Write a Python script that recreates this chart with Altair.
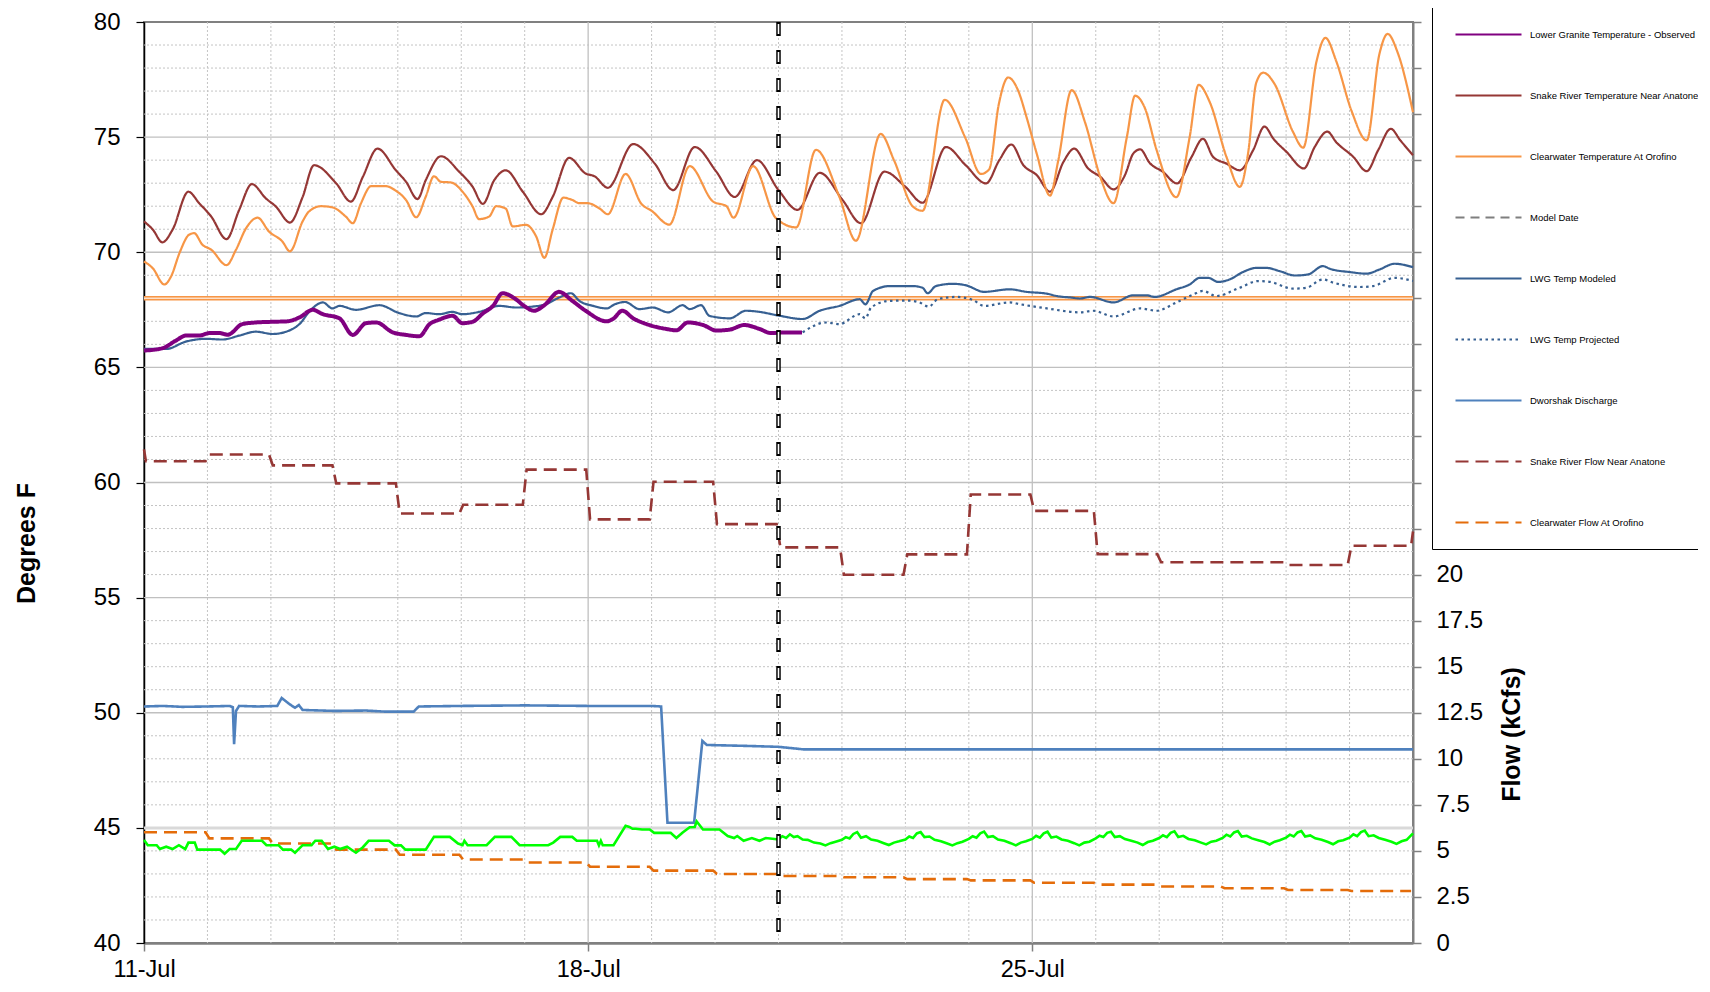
import altair as alt
import pandas as pd

FONT = "Liberation Sans"

# ---------------- axes / categories ----------------
x_tick_days = [0, 7, 14]
x_tick_labels = ["11-Jul", "18-Jul", "25-Jul"]
day_domain = [0, 20]
temp_ticks = [40, 45, 50, 55, 60, 65, 70, 75, 80]
flow_ticks = [0, 2.5, 5, 7.5, 10, 12.5, 15, 17.5, 20, 22.5, 25, 27.5, 30, 32.5, 35,
              37.5, 40, 42.5, 45, 47.5, 50]
flow_label_max = 20
grid_minor_temps = [41, 42, 43, 44, 46, 47, 48, 49, 51, 52, 53, 54, 56, 57, 58, 59,
                    61, 62, 63, 64, 66, 67, 68, 69, 71, 72, 73, 74, 76, 77, 78, 79]
grid_major_temps = [50, 55, 60, 65, 70, 75]
grid_light_temps = [45]
grid_minor_days = [1, 2, 3, 4, 5, 6, 8, 9, 10, 11, 12, 13, 15, 16, 17, 18, 19]
grid_major_days = [7, 14]
model_date_day = [10]
standard_temp = [68]

series_names = [
    "Lower Granite Temperature - Observed",
    "Snake River Temperature Near Anatone",
    "Clearwater Temperature At Orofino",
    "Model Date",
    "LWG Temp Modeled",
    "LWG Temp Projected",
    "Dworshak Discharge",
    "Snake River Flow Near Anatone",
    "Clearwater Flow At Orofino",
]
series_colors = ["#800080", "#953735", "#F79646", "#7F7F7F", "#376092", "#376092",
                 "#4F81BD", "#953735", "#E46C0A"]
series_dashes = [[1, 0], [1, 0], [1, 0], [9, 6], [1, 0], [2.5, 3.5], [1, 0], [13, 7], [13, 7]]

# ---------------- temperatures (deg F), (day since 11-Jul, value) ----------------
snake_temp = [
    (0, 71.34), (0.14, 70.98), (0.29, 70.43), (0.45, 70.98), (0.70, 72.63), (0.87, 72.13),
    (1.06, 71.55), (1.30, 70.57), (1.50, 71.84), (1.70, 72.96), (1.92, 72.34), (2.08, 71.98),
    (2.30, 71.29), (2.50, 72.4), (2.68, 73.78), (3.03, 72.99), (3.26, 72.2), (3.45, 73.28),
    (3.68, 74.5), (3.97, 73.56), (4.13, 73.06), (4.31, 72.31), (4.44, 73.13), (4.68, 74.17),
    (4.97, 73.49), (5.18, 72.84), (5.34, 72.1), (5.52, 73.13), (5.70, 73.56), (5.97, 72.63),
    (6.26, 71.65), (6.44, 72.4), (6.70, 74.1), (6.96, 73.42), (7.10, 73.3), (7.31, 72.8),
    (7.71, 74.7), (8.05, 73.85), (8.34, 72.7), (8.68, 74.57), (9.02, 73.5), (9.31, 72.4),
    (9.66, 74.0), (10.0, 72.7), (10.3, 71.84), (10.65, 73.45), (11.01, 72.27), (11.3, 71.26),
    (11.67, 73.5), (12.0, 72.84), (12.27, 72.15), (12.64, 74.57), (12.95, 73.78),
    (13.27, 72.99), (13.48, 74.0), (13.67, 74.68), (13.86, 73.78), (14.07, 73.35),
    (14.28, 72.63), (14.49, 73.92), (14.66, 74.5), (14.88, 73.64), (15.07, 73.28),
    (15.28, 72.73), (15.46, 73.35), (15.59, 74.28), (15.70, 74.47), (15.85, 73.88),
    (16.06, 73.49), (16.28, 72.99), (16.51, 74.14), (16.69, 74.93), (16.85, 74.14),
    (17.06, 73.85), (17.27, 73.56), (17.48, 74.43), (17.66, 75.46), (17.80, 74.93),
    (18.01, 74.35), (18.28, 73.64), (18.45, 74.57), (18.65, 75.24), (18.79, 74.78),
    (19.06, 74.14), (19.27, 73.52), (19.45, 74.43), (19.65, 75.36), (19.80, 74.86),
    (20.0, 74.21),
]
clearwater_temp = [
    (0, 69.6), (0.14, 69.3), (0.32, 68.6), (0.43, 68.97), (0.56, 69.97), (0.71, 70.76),
    (0.79, 70.83), (0.92, 70.33), (1.06, 70.11), (1.30, 69.44), (1.45, 70.11), (1.61, 71.05),
    (1.79, 71.5), (1.97, 70.9), (2.18, 70.47), (2.30, 70.04), (2.50, 71.34), (2.60, 71.77),
    (2.79, 72.0), (2.97, 71.95), (3.18, 71.55), (3.29, 71.26), (3.42, 72.13), (3.58, 72.87),
    (3.81, 72.87), (3.97, 72.67), (4.13, 72.27), (4.29, 71.52), (4.44, 72.41), (4.57, 73.3),
    (4.68, 73.06), (4.84, 73.03), (5.02, 72.63), (5.18, 71.98), (5.28, 71.44), (5.44, 71.55),
    (5.55, 72.0), (5.70, 71.9), (5.81, 71.12), (6.02, 71.19), (6.18, 70.69), (6.31, 69.76),
    (6.44, 70.98), (6.61, 72.37), (6.75, 72.27), (6.86, 72.13), (6.99, 72.13), (7.18, 71.9),
    (7.31, 71.65), (7.59, 73.4), (7.84, 72.1), (8.0, 71.8), (8.28, 71.2), (8.6, 73.74),
    (8.97, 72.2), (9.18, 72.0), (9.29, 71.5), (9.6, 73.74), (9.96, 71.48), (10.28, 71.08),
    (10.59, 74.45), (10.96, 72.4), (11.22, 70.5), (11.61, 75.14), (11.82, 74.0),
    (12.12, 71.98), (12.27, 71.8), (12.62, 76.62), (12.94, 75.0), (13.19, 73.4),
    (13.32, 73.6), (13.47, 76.4), (13.62, 77.59), (13.78, 77.0), (13.91, 75.86),
    (14.07, 74.28), (14.28, 72.46), (14.41, 74.0), (14.62, 77.04), (14.83, 75.65),
    (15.07, 73.28), (15.28, 72.13), (15.49, 75.0), (15.62, 76.8), (15.77, 76.29),
    (15.96, 74.43), (16.27, 72.39), (16.48, 75.0), (16.62, 77.27), (16.80, 76.5),
    (17.06, 74.14), (17.27, 72.84), (17.40, 74.28), (17.53, 77.37), (17.64, 77.8),
    (17.82, 77.3), (18.11, 75.22), (18.27, 74.54), (18.48, 78.3), (18.62, 79.31),
    (18.79, 78.3), (19.03, 76.15), (19.27, 74.86), (19.47, 78.6), (19.60, 79.48),
    (19.76, 78.66), (20.0, 76.08),
]
lwg_observed = [
    (0, 65.73), (0.29, 65.83), (0.50, 66.16), (0.66, 66.38), (0.87, 66.38), (1.03, 66.49),
    (1.19, 66.49), (1.32, 66.42), (1.55, 66.88), (1.76, 66.95), (2.03, 66.98), (2.26, 67.0),
    (2.45, 67.17), (2.66, 67.5), (2.82, 67.31), (3.08, 67.13), (3.29, 66.41), (3.50, 66.92),
    (3.66, 66.95), (3.92, 66.52), (4.13, 66.41), (4.34, 66.35), (4.50, 66.88), (4.65, 67.07),
    (4.86, 67.24), (5.02, 66.92), (5.18, 66.98), (5.34, 67.34), (5.50, 67.67), (5.65, 68.22),
    (5.86, 67.96), (5.99, 67.67), (6.15, 67.46), (6.31, 67.7), (6.54, 68.28), (6.75, 67.89),
    (6.96, 67.46), (7.29, 67.0), (7.39, 67.1), (7.54, 67.46), (7.71, 67.13), (7.92, 66.88),
    (8.23, 66.67), (8.39, 66.61), (8.57, 66.95), (8.81, 66.84), (9.02, 66.6), (9.23, 66.64),
    (9.46, 66.84), (9.70, 66.67), (9.88, 66.49), (10.12, 66.52), (10.37, 66.52),
]
lwg_modeled = [
    (0, 65.8), (0.35, 65.8), (0.66, 66.12), (0.98, 66.24), (1.24, 66.21), (1.50, 66.38),
    (1.76, 66.55), (2.03, 66.45), (2.24, 66.55), (2.45, 66.88), (2.63, 67.5), (2.82, 67.82),
    (2.97, 67.56), (3.08, 67.67), (3.34, 67.5), (3.71, 67.7), (4.02, 67.36), (4.29, 67.21),
    (4.44, 67.36), (4.65, 67.31), (4.86, 67.41), (5.02, 67.31), (5.28, 67.41), (5.60, 67.67),
    (5.86, 67.6), (6.12, 67.64), (6.33, 67.74), (6.54, 68.03), (6.73, 68.22), (6.86, 67.89),
    (7.08, 67.67), (7.29, 67.56), (7.42, 67.74), (7.58, 67.84), (7.81, 67.53), (8.02, 67.6),
    (8.26, 67.39), (8.49, 67.7), (8.60, 67.53), (8.78, 67.7), (8.91, 67.24), (9.23, 67.13),
    (9.49, 67.46), (9.70, 67.41), (10.02, 67.24), (10.38, 67.1), (10.65, 67.46),
    (10.96, 67.67), (11.28, 67.96), (11.37, 67.74), (11.49, 68.32), (11.75, 68.53),
    (12.12, 68.53), (12.27, 68.46), (12.35, 68.22), (12.48, 68.53), (12.75, 68.63),
    (12.96, 68.56), (13.24, 68.28), (13.64, 68.39), (13.91, 68.28), (14.23, 68.2),
    (14.38, 68.1), (14.62, 68.03), (14.75, 67.99), (14.91, 68.06), (15.28, 67.82),
    (15.59, 68.13), (15.80, 68.13), (15.93, 68.06), (16.27, 68.39), (16.48, 68.6),
    (16.64, 68.89), (16.77, 68.89), (16.93, 68.71), (17.11, 68.82), (17.32, 69.14),
    (17.53, 69.32), (17.69, 69.32), (17.90, 69.18), (18.14, 68.99), (18.35, 69.04),
    (18.58, 69.4), (18.69, 69.28), (19.00, 69.14), (19.27, 69.07), (19.47, 69.25),
    (19.71, 69.5), (20.0, 69.35),
]
lwg_projected = [
    (10.38, 66.52), (10.75, 66.95), (10.96, 66.88), (11.28, 67.31), (11.37, 67.13),
    (11.46, 67.6), (11.75, 67.89), (12.06, 67.9), (12.22, 67.82), (12.37, 67.64),
    (12.51, 67.96), (12.80, 68.06), (13.06, 67.93), (13.24, 67.67), (13.64, 67.82),
    (13.81, 67.74), (14.23, 67.56), (14.75, 67.39), (14.96, 67.46), (15.28, 67.21),
    (15.70, 67.56), (15.96, 67.46), (16.27, 67.82), (16.54, 68.17), (16.69, 68.32),
    (16.90, 68.1), (17.27, 68.46), (17.56, 68.75), (17.75, 68.71), (18.11, 68.42),
    (18.32, 68.46), (18.58, 68.82), (18.74, 68.68), (19.16, 68.49), (19.37, 68.53),
    (19.71, 68.89), (20.0, 68.75),
]

# ---------------- flows (kcfs) ----------------
dworshak_discharge = [
    (0, 12.84), (0.3, 12.87), (0.6, 12.82), (1.0, 12.84), (1.35, 12.87), (1.40, 12.8),
    (1.42, 10.79), (1.45, 12.6), (1.5, 12.87), (1.8, 12.84), (2.1, 12.87), (2.17, 13.3),
    (2.3, 12.95), (2.38, 12.77), (2.44, 12.92), (2.5, 12.65), (3.0, 12.6), (3.5, 12.62),
    (3.8, 12.56), (4.25, 12.56), (4.33, 12.84), (5.0, 12.87), (6.0, 12.9), (7.0, 12.87),
    (8.0, 12.87), (8.15, 12.84), (8.25, 6.53), (8.67, 6.53), (8.80, 10.97), (8.87, 10.75),
    (9.5, 10.7), (10.0, 10.65), (10.4, 10.51), (20.0, 10.51),
]
snake_flow_start = 26.8
snake_flow_daily = [26.15, 26.52, 25.93, 24.95, 23.32, 23.79, 25.7, 23.0, 25.04, 22.74,
                    21.48, 19.99, 21.1, 24.35, 23.46, 21.11, 20.67, 20.67, 20.52, 21.57]
snake_flow_end = 22.34
clearwater_flow_daily = [6.01, 5.68, 5.4, 5.07, 4.79, 4.53, 4.37, 4.14, 3.93, 3.75,
                         3.64, 3.57, 3.47, 3.4, 3.27, 3.17, 3.07, 2.97, 2.88, 2.82]
other_flow_early = [
    (0, 5.59), (0.06, 5.31), (0.2, 5.31), (0.25, 5.1), (0.35, 5.23), (0.45, 5.1), (0.55, 5.31),
    (0.65, 5.1), (0.7, 5.45), (0.8, 5.45), (0.84, 5.07), (1.2, 5.07), (1.27, 4.85), (1.35, 5.1),
    (1.45, 5.1), (1.54, 5.55), (1.86, 5.55), (1.93, 5.31), (2.12, 5.31), (2.19, 5.07),
    (2.32, 5.07), (2.38, 4.9), (2.5, 5.31), (2.64, 5.31), (2.7, 5.55), (2.8, 5.55), (2.9, 5.1),
    (3.0, 5.23), (3.09, 5.1), (3.2, 5.23), (3.34, 4.9), (3.45, 5.2), (3.54, 5.55), (3.86, 5.55),
    (3.95, 5.3), (4.05, 5.3), (4.12, 5.07), (4.44, 5.07), (4.57, 5.76), (4.82, 5.76),
    (4.95, 5.4), (5.02, 5.31), (5.05, 5.55), (5.1, 5.31), (5.4, 5.31), (5.53, 5.76),
    (5.79, 5.76), (5.92, 5.31), (6.37, 5.31), (6.45, 5.45), (6.56, 5.76), (6.75, 5.76),
    (6.82, 5.55), (7.14, 5.55), (7.17, 5.3), (7.2, 5.55), (7.23, 5.31), (7.4, 5.31),
    (7.59, 6.36), (7.65, 6.3), (7.7, 6.2), (7.75, 6.2), (7.85, 6.16), (7.97, 6.16),
    (8.04, 5.98), (8.3, 5.98), (8.39, 5.7), (8.49, 6.0), (8.6, 6.28), (8.68, 6.3),
    (8.71, 6.6), (8.81, 6.16), (9.07, 6.16), (9.2, 5.81), (9.3, 5.7), (9.35, 5.81),
    (9.45, 5.55), (9.58, 5.7), (9.7, 5.55), (9.8, 5.7), (9.97, 5.63),
]
other_flow_hours = [0.0, 0.06, 0.12, 0.18, 0.24, 0.3, 0.38, 0.46, 0.56, 0.66, 0.74, 0.82, 0.9]
other_flow_late_days = [10, 11, 12, 13, 14, 15, 16, 17, 18, 19]
other_flow_late = [
    [5.63, 5.8, 5.7, 5.9, 5.75, 5.8, 5.62, 5.6, 5.45, 5.4, 5.3, 5.42, 5.5],
    [5.6, 5.75, 5.68, 5.92, 6.02, 5.72, 5.8, 5.62, 5.55, 5.42, 5.32, 5.45, 5.52],
    [5.62, 5.78, 5.7, 5.95, 6.02, 5.75, 5.78, 5.6, 5.52, 5.4, 5.3, 5.42, 5.5],
    [5.65, 5.8, 5.72, 5.95, 6.05, 5.75, 5.8, 5.62, 5.55, 5.42, 5.3, 5.45, 5.52],
    [5.65, 5.82, 5.72, 5.95, 6.04, 5.72, 5.78, 5.62, 5.55, 5.42, 5.3, 5.45, 5.5],
    [5.68, 5.82, 5.75, 5.98, 6.04, 5.75, 5.8, 5.64, 5.55, 5.45, 5.32, 5.48, 5.55],
    [5.7, 5.85, 5.75, 5.98, 6.06, 5.75, 5.82, 5.65, 5.58, 5.45, 5.35, 5.5, 5.55],
    [5.7, 5.88, 5.78, 6.0, 6.08, 5.78, 5.82, 5.68, 5.58, 5.48, 5.35, 5.5, 5.58],
    [5.72, 5.88, 5.78, 6.0, 6.08, 5.78, 5.84, 5.68, 5.6, 5.48, 5.36, 5.52, 5.58],
    [5.72, 5.9, 5.8, 6.02, 6.1, 5.8, 5.85, 5.7, 5.6, 5.5, 5.38, 5.52, 5.6],
]
other_flow_end = (20.0, 5.95)


# ---------------- tables ----------------
def frame(points, name):
    return pd.DataFrame({"day": [p[0] for p in points],
                         "value": [p[1] for p in points],
                         "series": name})


def steps(daily, first=None, last=None):
    pts = []
    if first is not None:
        pts.append((0, first))
    for i, v in enumerate(daily):
        pts.append((i + 0.03 if (i > 0 or first is not None) else 0, v))
        pts.append((i + 0.97, v))
    if last is not None:
        pts.append((len(daily), last))
    return pts


temp_df = pd.concat([
    frame(snake_temp, series_names[1]),
    frame(clearwater_temp, series_names[2]),
    frame(lwg_modeled, series_names[4]),
    frame(lwg_projected, series_names[5]),
])
obs_df = frame(lwg_observed, series_names[0])
flow_df = pd.concat([
    frame(dworshak_discharge, series_names[6]),
    frame(steps(snake_flow_daily, snake_flow_start, snake_flow_end), series_names[7]),
    frame(steps(clearwater_flow_daily), series_names[8]),
])
other_pts = list(other_flow_early)
for d, vals in zip(other_flow_late_days, other_flow_late):
    for h, v in zip(other_flow_hours, vals):
        other_pts.append((d + h, v))
other_pts.append(other_flow_end)
other_df = pd.DataFrame({"day": [p[0] for p in other_pts], "value": [p[1] for p in other_pts]})

# ---------------- encodings ----------------
x_label_expr = " : ".join(f"datum.value == {d} ? '{l}'" for d, l in zip(x_tick_days, x_tick_labels)) + " : ''"
x_scale = alt.Scale(domain=day_domain, nice=False, zero=False)
x_axis = alt.Axis(values=x_tick_days, labelExpr=x_label_expr, grid=False, title=None,
                  domainColor="#808080", domainWidth=2.5, tickColor="#808080", tickWidth=1.5,
                  tickSize=8, labelFont=FONT, labelFontSize=23.5, labelColor="black",
                  labelPadding=6, labelFlush=False)
X = alt.X("day:Q", scale=x_scale, axis=x_axis)

temp_scale = alt.Scale(domain=[40, 80], nice=False, zero=False)
temp_axis = alt.Axis(values=temp_ticks, format="d", grid=False, domainColor="black",
                     domainWidth=1.5, tickColor="black", tickWidth=1.2, tickSize=8,
                     labelFont=FONT, labelFontSize=24, labelColor="black", labelPadding=16,
                     labelFlush=False, title="Degrees F", titleFont=FONT, titleFontSize=25,
                     titleFontWeight="bold", titleColor="black", titleAngle=270,
                     titleX=-118, titleY=521, titleAlign="center", titleBaseline="middle")
flow_scale = alt.Scale(domain=[0, 50], nice=False, zero=True)
flow_axis = alt.Axis(orient="right", values=flow_ticks, format=".3~g",
                     labelExpr=f"datum.value <= {flow_label_max} ? datum.label : ''",
                     grid=False, domainColor="#808080", domainWidth=2, tickColor="#808080",
                     tickWidth=1.5, tickSize=8, labelFont=FONT, labelFontSize=24,
                     labelColor="black", labelPadding=15, labelFlush=False,
                     title="Flow (kCfs)", titleFont=FONT, titleFontSize=25,
                     titleFontWeight="bold", titleColor="black", titleAngle=270,
                     titleX=98, titleY=712, titleAlign="center", titleBaseline="middle")


def TY(field="value:Q"):
    return alt.Y(field, scale=temp_scale, axis=temp_axis)


def FY(field="value:Q"):
    return alt.Y(field, scale=flow_scale, axis=flow_axis)


legend = alt.Legend(orient="none", legendX=1288, legendY=-44, direction="vertical", title=None,
                    symbolType="stroke", symbolSize=4356, symbolStrokeWidth=2.2,
                    labelFont=FONT, labelFontSize=9.5, labelColor="black", labelLimit=400,
                    labelOffset=7, rowPadding=22, padding=22, strokeColor="black",
                    fillColor="white")
COLOR = alt.Color("series:N", scale=alt.Scale(domain=series_names, range=series_colors), legend=legend)
DASH = alt.StrokeDash("series:N", scale=alt.Scale(domain=series_names, range=series_dashes), legend=legend)

# ---------------- gridlines ----------------
h_minor = alt.Chart(pd.DataFrame({"value": grid_minor_temps})).mark_rule(
    color="#C4C4C4", strokeWidth=1, strokeDash=[2, 2]).encode(y=TY())
h_major = alt.Chart(pd.DataFrame({"value": grid_major_temps})).mark_rule(
    color="#C0C0C0", strokeWidth=1.3).encode(y=TY())
h_light = alt.Chart(pd.DataFrame({"value": grid_light_temps})).mark_rule(
    color="#D9D9D9", strokeWidth=3).encode(y=TY())
v_minor = alt.Chart(pd.DataFrame({"day": grid_minor_days})).mark_rule(
    color="#C4C4C4", strokeWidth=1, strokeDash=[2, 2]).encode(x=X)
v_major = alt.Chart(pd.DataFrame({"day": grid_major_days})).mark_rule(
    color="#C0C0C0", strokeWidth=1.3).encode(x=X)

std_df = pd.DataFrame({"value": standard_temp})
std_outer = alt.Chart(std_df).mark_rule(color="#F79646", strokeWidth=4.5).encode(y=TY())
std_inner = alt.Chart(std_df).mark_rule(color="#FDE0C8", strokeWidth=1.5).encode(y=TY())

temp_lines = alt.Chart(temp_df).mark_line(interpolate="monotone", strokeWidth=2.2).encode(
    x=X, y=TY(), color=COLOR, strokeDash=DASH)
obs_line = alt.Chart(obs_df).mark_line(interpolate="monotone", strokeWidth=4).encode(
    x=X, y=TY(), color=COLOR, strokeDash=DASH)

temp_layer = alt.layer(h_minor, v_minor, h_major, v_major, h_light, std_outer, std_inner,
                       temp_lines, obs_line)

flow_lines = alt.Chart(flow_df).mark_line(strokeWidth=2.6).encode(
    x=X, y=FY(), color=COLOR, strokeDash=DASH)
other_line = alt.Chart(other_df).mark_line(strokeWidth=2.6, color="#00FF00").encode(x=X, y=FY())

model_df = pd.DataFrame({"day": model_date_day})
model_outer = alt.Chart(model_df).mark_rule(color="black", strokeWidth=4.5,
                                            strokeDash=[14, 14]).encode(x=X)
model_inner = alt.Chart(model_df).mark_rule(color="white", strokeWidth=1.6, strokeDash=[10, 18],
                                            strokeDashOffset=-2).encode(x=X)

flow_layer = alt.layer(flow_lines, other_line, model_outer, model_inner)

chart = alt.layer(temp_layer, flow_layer).resolve_scale(y="independent").properties(
    width=1269, height=921,
    padding={"left": 136, "top": 14, "right": 285, "bottom": 37},
    autosize=alt.AutoSizeParams(type="none"),
    background="white",
).configure_view(stroke="#808080", strokeWidth=2)

chart.save("out.html", embed_options={"renderer": "svg", "actions": False})
